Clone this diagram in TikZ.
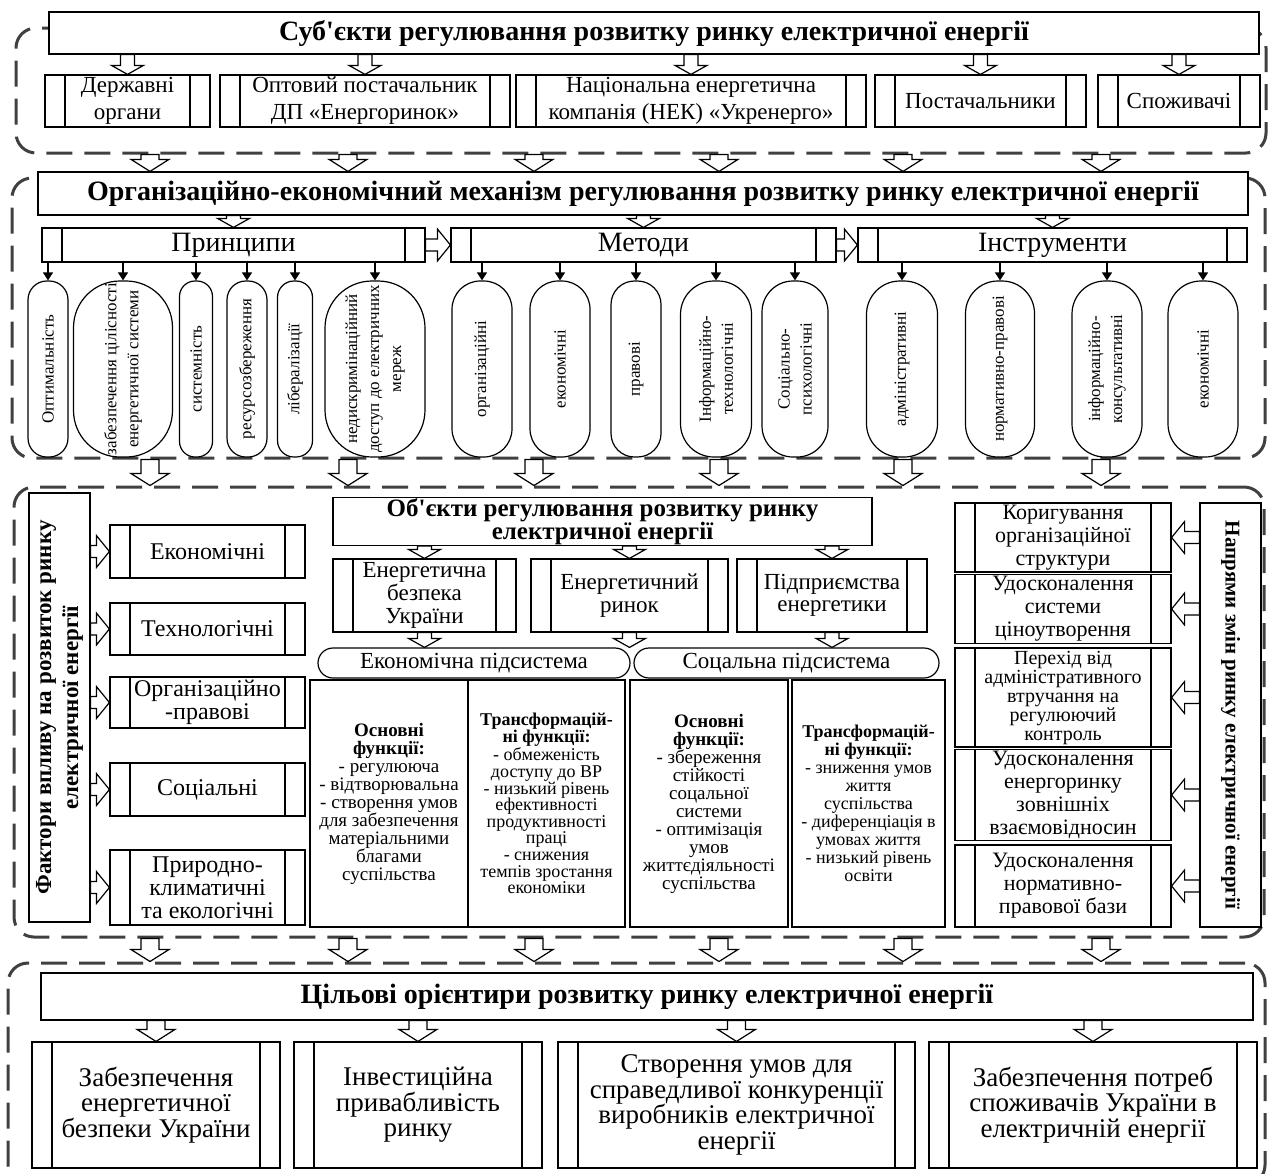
\documentclass[tikz,border=0pt]{standalone}
\usepackage{fontspec}
\setmainfont{Liberation Serif}[Ligatures=TeXOff]
\usetikzlibrary{calc,arrows.meta}

\newcommand\ftitle{\fontsize{14}{14}\selectfont\bfseries}
\newcommand\frow{\fontsize{11.5}{13.5}\selectfont}
\newcommand\fhead{\fontsize{14}{16}\selectfont}
\newcommand\fpill{\fontsize{8.5}{11}\selectfont}
\newcommand\fside{\fontsize{11.5}{13.5}\selectfont\bfseries}
\newcommand\fsider{\fontsize{10.5}{12}\selectfont\bfseries}
\newcommand\ffact{\fontsize{12}{11.5}\selectfont}
\newcommand\fobj{\fontsize{11.5}{11.3}\selectfont}
\newcommand\fobjt{\fontsize{12.5}{11.5}\selectfont\bfseries}
\newcommand\ffunc{\fontsize{9.5}{9}\selectfont}
\newcommand\fdir{\fontsize{11}{11.5}\selectfont}
\newcommand\fgoal{\fontsize{13.5}{12.8}\selectfont}

\tikzset{
  sect/.style={draw=black!75, line width=1.5pt, dash pattern=on 13pt off 6pt, rounded corners=10pt},
  bx/.style={draw, fill=white, align=center, inner sep=1pt},
  proc/.style={bx, path picture={
      \draw ([xshift=10pt]path picture bounding box.north west) -- ([xshift=10pt]path picture bounding box.south west);
      \draw ([xshift=-10pt]path picture bounding box.north east) -- ([xshift=-10pt]path picture bounding box.south east);}},
  pill/.style={bx, rotate=90, minimum width=88pt, font=\fpill},
  smallarr/.style={-{Triangle[length=4pt,width=5pt]}},
  hdn/.style n args={3}{draw, fill=white, to path={let \p1=(\tikztostart), \p2=(\tikztotarget) in
      (\x1-#1,\y1) -- (\x1-#1,\y2+#3) -- (\x1-#2,\y2+#3) -- (\x1,\y2) -- (\x1+#2,\y2+#3) -- (\x1+#1,\y2+#3) -- (\x1+#1,\y1) -- cycle}},
  hdown/.style={hdn={4.5pt}{9.5pt}{6pt}},
  hsmall/.style={hdn={3.5pt}{8pt}{4.5pt}},
  hright/.style={draw, fill=white, to path={let \p1=(\tikztostart), \p2=(\tikztotarget) in
      (\x1,\y1+3pt) -- (\x2-6.5pt,\y1+3pt) -- (\x2-6.5pt,\y1+8pt) -- (\x2,\y1) -- (\x2-6.5pt,\y1-8pt) -- (\x2-6.5pt,\y1-3pt) -- (\x1,\y1-3pt) -- cycle}},
  hleft/.style={draw, fill=white, to path={let \p1=(\tikztostart), \p2=(\tikztotarget) in
      (\x1,\y1+3pt) -- (\x2+6.5pt,\y1+3pt) -- (\x2+6.5pt,\y1+8pt) -- (\x2,\y1) -- (\x2+6.5pt,\y1-8pt) -- (\x2+6.5pt,\y1-3pt) -- (\x1,\y1-3pt) -- cycle}},
}

\begin{document}
\begin{tikzpicture}[x=0.5pt,y=-0.5pt,line width=0.6pt]
\useasboundingbox (0,0) rectangle (1272,1173);
\clip (0,0) rectangle (1272,1173);

% frames
\node[sect, minimum width=625pt, minimum height=62.5pt] (G1) at (641,90.5) {};
\node[sect, minimum width=626.5pt, minimum height=140pt] (G2) at (638.5,318) {};
\node[sect, minimum width=625pt, minimum height=225pt] (G3) at (639,712) {};
\node[sect, minimum width=628.5pt, minimum height=111pt] (G4) at (636.5,1074) {};

% subjects
\node[bx, minimum width=605pt, minimum height=21pt, font=\ftitle] (T1) at (654,33) {Суб'єкти регулювання розвитку ринку електричної енергії};
\node[proc, minimum width=82.5pt, minimum height=26pt, font=\frow] (D1) at (127.5,101) {Державні\\органи};
\node[proc, minimum width=145pt, minimum height=26pt, font=\frow] (D2) at (365,101) {Оптовий постачальник\\ДП «Енергоринок»};
\node[proc, minimum width=175pt, minimum height=26pt, font=\frow] (D3) at (691,101) {Національна енергетична\\компанія (НЕК) «Укренерго»};
\node[proc, minimum width=105.5pt, minimum height=26pt, font=\frow] (D4) at (980.5,101) {Постачальники};
\node[proc, minimum width=81pt, minimum height=26pt, font=\frow] (D5) at (1179,101) {Споживачі};
\foreach \nm in {D1,D2,D3,D4,D5}
  \draw[hsmall] (\nm.north |- T1.south) to (\nm.north);

% mechanism
\node[bx, minimum width=605pt, minimum height=21.5pt, font=\ftitle] (T2) at (643,193.5) {Організаційно-економічний механізм регулювання розвитку ринку електричної енергії};
\foreach \px in {150,348,534,719,903,1101}
  \draw[hdown] (\px,0 |- G1.south) to (\px,0 |- T2.north);
\node[proc, minimum width=191.5pt, minimum height=17pt, font=\fhead, inner sep=0pt] (B1) at (233.5,245) {Принципи};
\node[proc, minimum width=192.5pt, minimum height=17pt, font=\fhead, inner sep=0pt] (B2) at (643.5,245) {Методи};
\node[proc, minimum width=194.5pt, minimum height=17pt, font=\fhead, inner sep=0pt] (B3) at (1052.5,245) {Інструменти};
\foreach \nm in {B1,B2,B3}
  \draw[hsmall] (\nm.north |- T2.south) to (\nm.north);
\draw[hright] (B1.east) to (B2.west);
\draw[hright] (B2.east) to (B3.west);

\foreach \nm/\cx/\w/\txt in {P1/48/20/Оптимальність,
    P2/123/49.5/{забезпечення цілісності\\енергетичної системи},
    P3/196/16.5/системність, P4/247/20/ресурсозбереження, P5/295/17.5/лібералізації,
    P6/375/50/{недискримінаційний\\доступ до електричних\\мереж},
    M1/482/30/організаційні, M2/560/30/економічні, M3/636/25/правові,
    M4/716/35.5/{Інформаційно-\\технологічні}, M5/795/33/{Соціально-\\психологічні},
    I1/902/35.5/адміністративні, I2/1000/34.5/нормативно-правові,
    I3/1107/35/{інформаційно-\\консультативні}, I4/1203/35/економічні}
  \node[pill, minimum height=\w pt, rounded corners=0.47*\w pt] (\nm) at (\cx,369) {\txt};
\foreach \nm in {P1,P2,P3,P4,P5,P6}
  \draw[smallarr] (\nm.east |- B1.south) -- (\nm.east);
\foreach \nm in {M1,M2,M3,M4,M5}
  \draw[smallarr] (\nm.east |- B2.south) -- (\nm.east);
\foreach \nm in {I1,I2,I3,I4}
  \draw[smallarr] (\nm.east |- B3.south) -- (\nm.east);

% factors, objects, directions
\foreach \px in {150,348,534,719,903,1101}
  \draw[hdown] (\px,0 |- G2.south) to (\px,0 |- G3.north);
\node[bx, rotate=90, minimum width=214.5pt, minimum height=30.5pt, font=\fside, inner sep=0pt] (L) at (59.5,707.5) {Фактори впливу на розвиток ринку\\електричної енергії};
\node[proc, minimum width=97.5pt, minimum height=26.5pt, font=\ffact] (F1) at (207.5,551.5) {Економічні};
\node[proc, minimum width=97.5pt, minimum height=26pt, font=\ffact] (F2) at (207.5,629) {Технологічні};
\node[proc, minimum width=97.5pt, minimum height=25.5pt, font=\ffact] (F3) at (207.5,702.5) {Організаційно\\-правові};
\node[proc, minimum width=97.5pt, minimum height=26.5pt, font=\ffact] (F4) at (207.5,789.5) {Соціальні};
\node[proc, minimum width=97.5pt, minimum height=37.5pt, font=\ffact] (F5) at (207.5,887.5) {Природно-\\климатичні\\та екологічні};
\foreach \nm in {F1,F2,F3,F4,F5}
  \draw[hright] (L.south |- \nm.west) to (\nm.west);

\node[bx, minimum width=269.5pt, minimum height=24pt, font=\fobjt, inner sep=0pt] (O) at (602.5,521.5) {Об'єкти регулювання розвитку ринку\\електричної енергії};
\node[proc, minimum width=91.5pt, minimum height=36.5pt, font=\fobj] (E1) at (424.5,595.5) {Енергетична\\безпека\\України};
\node[proc, minimum width=98.5pt, minimum height=36.5pt, font=\fobj] (E2) at (629.5,595.5) {Енергетичний\\ринок};
\node[proc, minimum width=95pt, minimum height=36.5pt, font=\fobj] (E3) at (832,595.5) {Підприємства\\енергетики};
\foreach \nm in {E1,E2,E3}
  \draw[hsmall] (\nm.north |- O.south) to (\nm.north);
\node[bx, rounded corners=7.5pt, minimum width=156pt, minimum height=15pt, font=\fobj, inner sep=0pt] (S1) at (474,663) {Економічна підсистема};
\node[bx, rounded corners=7.5pt, minimum width=152.5pt, minimum height=15pt, font=\fobj, inner sep=0pt] (S2) at (786.5,663) {Соцальна підсистема};
\draw[hsmall] (E1.south) to (E1.south |- S1.north);
\draw[hsmall] (E2.south) to (E2.south |- S1.north);
\draw[hsmall] (E3.south) to (E3.south |- S2.north);

\node[bx, minimum width=79pt, minimum height=123.5pt, font=\ffunc] (Q1) at (389,803.5) {\textbf{Основні}\\\textbf{функції:}\\- регулююча\\- відтворювальна\\- створення умов\\для забезпечення\\матеріальними\\благами\\суспільства};
\node[bx, minimum width=78.5pt, minimum height=123.5pt, font=\fontsize{9}{8.3}\selectfont] (Q2) at (546.5,803.5) {\textbf{Трансформацій-}\\\textbf{ні функції:}\\- обмеженість\\доступу до ВР\\- низький рівень\\ефективності\\продуктивності\\праці\\- снижения\\темпів зростання\\економіки};
\node[bx, minimum width=79pt, minimum height=123.5pt, font=\ffunc] (Q3) at (709,803.5) {\textbf{Основні}\\\textbf{функції:}\\- збереження\\стійкості\\соцальної\\системи\\- оптимізація\\умов\\життєдіяльності\\суспільства};
\node[bx, minimum width=76.5pt, minimum height=123.5pt, font=\fontsize{9}{9}\selectfont] (Q4) at (868.5,803.5) {\textbf{Трансформацій-}\\\textbf{ні функції:}\\- зниження умов\\життя\\суспільства\\- диференціація в\\умовах життя\\- низький рівень\\освіти};

\node[bx, rotate=-90, minimum width=212pt, minimum height=30.5pt, font=\fsider, inner sep=0pt] (R) at (1230.5,715) {Напрями змін ринку електричної енергії};
\node[proc, minimum width=108pt, minimum height=32.5pt, font=\fdir] (H1) at (1063,537.5) {Коригування\\організаційної\\структури};
\node[proc, minimum width=108pt, minimum height=33pt, font=\fdir] (H2) at (1063,609) {Удосконалення\\системи\\ціноутворення};
\node[proc, minimum width=108pt, minimum height=49.5pt, font=\fontsize{10}{9.5}\selectfont] (H3) at (1063,697.5) {Перехід від\\адміністративного\\втручання на\\регулюючий\\контроль};
\node[proc, minimum width=108pt, minimum height=42pt, font=\fdir] (H4) at (1063,795) {Удосконалення\\енергоринку\\зовнішніх\\взаємовідносин};
\node[proc, minimum width=108pt, minimum height=41pt, font=\fdir] (H5) at (1063,886) {Удосконалення\\нормативно-\\правової бази};
\foreach \nm in {H1,H2,H3,H4,H5}
  \draw[hleft] (R.south |- \nm.east) to (\nm.east);

% goals
\foreach \px in {150,348,534,719,903,1101}
  \draw[hdown] (\px,0 |- G3.south) to (\px,0 |- G4.north);
\node[bx, minimum width=606pt, minimum height=23.5pt, font=\ftitle] (T4) at (647,996.5) {Цільові орієнтири розвитку ринку електричної енергії};
\node[proc, minimum width=124pt, minimum height=63pt, font=\fgoal] (K1) at (156,1105) {Забезпечення\\енергетичної\\безпеки України};
\node[proc, minimum width=124pt, minimum height=63pt, font=\fgoal] (K2) at (418,1105) {Інвестиційна\\привабливість\\ринку};
\node[proc, minimum width=178.5pt, minimum height=63pt, font=\fgoal] (K3) at (736.5,1105) {Створення умов для\\справедливої конкуренції\\виробників електричної\\енергії};
\node[proc, minimum width=164pt, minimum height=63pt, font=\fgoal] (K4) at (1093,1105) {Забезпечення потреб\\споживачів України в\\електричній енергії};
\foreach \nm in {K1,K2,K3,K4}
  \draw[hdown] (\nm.north |- T4.south) to (\nm.north);
\end{tikzpicture}
\end{document}
